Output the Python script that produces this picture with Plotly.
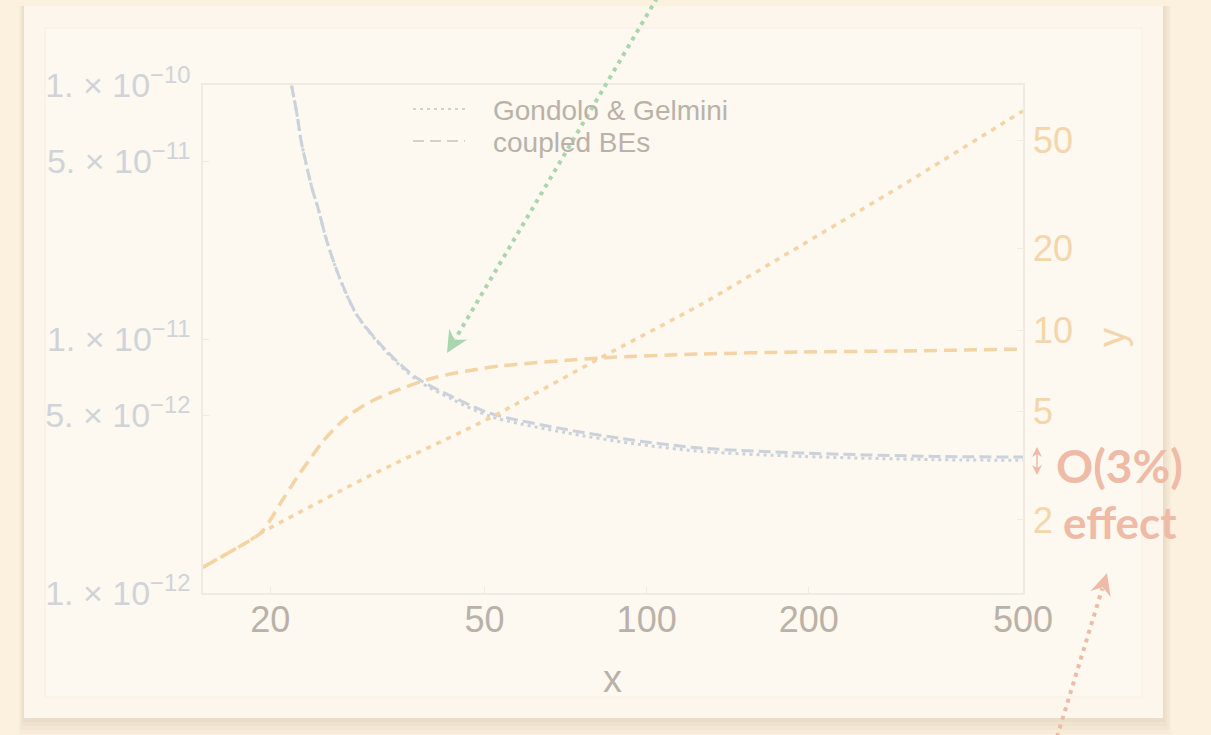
import math
import plotly.graph_objects as go

# ---- data -------------------------------------------------------------
# relic-abundance curves (left axis) vs x
x_blue = [21.4, 21.9, 22.4, 22.8, 23.3, 23.9, 24.5, 25.5, 27.0, 29.0, 33.0,
          37.5, 43.7, 51.2, 71.0, 94.0, 126.0, 193.0, 340.0, 500.0]
y_blue_coupled = [1.35e-10, 1.0e-10, 7.76e-11, 6.07e-11, 4.93e-11, 3.93e-11,
                  3.31e-11, 2.41e-11, 1.71e-11, 1.24e-11, 8.9e-12, 7.0e-12,
                  5.9e-12, 5.1e-12, 4.4e-12, 4.0e-12, 3.72e-12, 3.56e-12,
                  3.45e-12, 3.43e-12]
y_blue_gg = [1.35e-10, 1.0e-10, 7.76e-11, 6.07e-11, 4.93e-11, 3.93e-11,
             3.31e-11, 2.41e-11, 1.70e-11, 1.235e-11, 8.8e-12, 6.88e-12,
             5.77e-12, 4.96e-12, 4.27e-12, 3.88e-12, 3.61e-12, 3.45e-12,
             3.35e-12, 3.33e-12]

# y curves (right axis) vs x
x_orange_coupled = [15.0, 18.4, 19.2, 20.0, 20.9, 22.4, 23.7, 25.0, 26.5,
                    28.4, 30.9, 34.9, 40.1, 46.4, 53.5, 82.0, 126.0, 193.0,
                    295.0, 500.0]
y_orange_coupled = [1.34, 1.69, 1.79, 2.00, 2.31, 2.86, 3.35, 3.87, 4.40,
                    4.95, 5.48, 6.07, 6.66, 7.07, 7.37, 7.89, 8.16, 8.30,
                    8.37, 8.51]
x_orange_gg = [15.0, 18.4, 19.2, 30.3, 51.2, 82.0, 126.0, 193.0, 295.0, 500.0]
y_orange_gg = [1.34, 1.69, 1.79, 2.88, 4.75, 7.89, 12.4, 20.4, 33.6, 64.0]

# axis ticks
x_ticks = [20, 50, 100, 200, 500]
x_tick_text = ["20", "50", "100", "200", "500"]
yl_ticks = [1e-12, 5e-12, 1e-11, 5e-11, 1e-10]
yl_tick_text = ["1. × 10<sup>−12</sup>", "5. × 10<sup>−12</sup>",
                "1. × 10<sup>−11</sup>", "5. × 10<sup>−11</sup>",
                "1. × 10<sup>−10</sup>"]
yr_ticks = [2, 5, 10, 20, 50]
yr_tick_text = ["2", "5", "10", "20", "50"]

legend_labels = ["Gondolo & Gelmini", "coupled BEs"]

# ---- geometry ----------------------------------------------------------
W, H = 1211, 735
L, R, T, B = 203, 1023, 85, 593


def px(xp):
    return (xp - L) / (R - L)


def py(yp):
    return (B - yp) / (B - T)


BLUE = "#cbd2db"
ORANGE = "#f4d4a4"
ORANGE_TXT = "#f4d6aa"
GREEN = "#aad6ad"
SALMON = "#efbba6"
GRAY_TXT = "#bab2a8"
LEFT_TXT = "#d0d4d8"

fig = go.Figure()

fig.add_trace(go.Scatter(x=x_blue, y=y_blue_gg, mode="lines", yaxis="y",
                         line=dict(color=BLUE, width=3, dash="3px,4px",
                                   shape="spline", smoothing=0.8),
                         showlegend=False))
fig.add_trace(go.Scatter(x=x_blue, y=y_blue_coupled, mode="lines", yaxis="y",
                         line=dict(color=BLUE, width=3, dash="12px,5px",
                                   shape="spline", smoothing=0.8),
                         showlegend=False))
fig.add_trace(go.Scatter(x=x_orange_gg, y=y_orange_gg, mode="lines", yaxis="y2",
                         line=dict(color=ORANGE, width=3.5, dash="5px,6px",
                                   shape="spline", smoothing=0.5),
                         showlegend=False))
fig.add_trace(go.Scatter(x=x_orange_coupled, y=y_orange_coupled, mode="lines",
                         yaxis="y2",
                         line=dict(color=ORANGE, width=3.5, dash="13px,7px",
                                   shape="spline", smoothing=0.8),
                         showlegend=False))

shapes = []


def rect(x0, y0, x1, y1, fill, line=None, opacity=1.0):
    shapes.append(dict(type="rect", xref="paper", yref="paper",
                       x0=px(x0), x1=px(x1), y0=py(y1), y1=py(y0),
                       fillcolor=fill, opacity=opacity, layer="below",
                       line=dict(width=1 if line else 0, color=line or fill)))


# slide card with a soft drop shadow
for i, op in enumerate([0.18, 0.22, 0.28, 0.35]):
    d = 8 - 2 * i
    rect(24 - d * 0.6, 6, 1163 + d, 718 + d * 2, "#e6d8c1", opacity=op)
rect(24, 6, 1163, 718, "#fdf6ec")
rect(45, 28, 1142, 697, "#fdf8f0", line="#f6efe4")


def seg(x0, y0, x1, y1, color, width, dash):
    shapes.append(dict(type="line", xref="paper", yref="paper",
                       x0=px(x0), y0=py(y0), x1=px(x1), y1=py(y1),
                       line=dict(color=color, width=width, dash=dash)))


def arrow_head(tip, direction, color, length=22, half=10.5, notch=15):
    dx, dy = direction
    n = math.hypot(dx, dy)
    dx, dy = dx / n, dy / n
    bx, by = tip[0] - length * dx, tip[1] - length * dy
    qx, qy = -dy, dx
    c1 = (bx + half * qx, by + half * qy)
    c2 = (bx - half * qx, by - half * qy)
    nt = (tip[0] - notch * dx, tip[1] - notch * dy)
    pts = [tip, c1, nt, c2]
    path = "M " + " L ".join(f"{px(a):.5f},{py(b):.5f}" for a, b in pts) + " Z"
    shapes.append(dict(type="path", xref="paper", yref="paper", path=path,
                       fillcolor=color, line=dict(width=0)))


# legend samples
seg(413, 109, 467, 109, "#d6d0c7", 2, "3px,4px")
seg(413, 141, 465, 141, "#d6d0c7", 2, "11px,6px")

# green pointer into the crossing region
g_start, g_tip = (657, -2), (447, 353)
gdir = (g_tip[0] - g_start[0], g_tip[1] - g_start[1])
gn = math.hypot(*gdir)
seg(g_start[0], g_start[1], g_tip[0] - 16 * gdir[0] / gn,
    g_tip[1] - 16 * gdir[1] / gn, GREEN, 4, "4px,5px")
arrow_head(g_tip, gdir, GREEN)

# salmon pointer up to the annotation
s_start, s_tip = (1057, 737), (1107, 573)
sdir = (s_tip[0] - s_start[0], s_tip[1] - s_start[1])
sn = math.hypot(*sdir)
seg(s_start[0], s_start[1], s_tip[0] - 16 * sdir[0] / sn,
    s_tip[1] - 16 * sdir[1] / sn, SALMON, 4, "4px,5px")
arrow_head(s_tip, sdir, SALMON)

# small double-headed marker next to the curves' end
arrow_head((1037, 447), (0, -1), SALMON, length=10, half=5, notch=7)
arrow_head((1037, 475), (0, 1), SALMON, length=10, half=5, notch=7)
seg(1037, 452, 1037, 470, SALMON, 1.5, "solid")

annotations = []


def text(x, y, s, size, color, family="Liberation Sans, Arial, sans-serif",
         xanchor="center", yanchor="middle", angle=0):
    annotations.append(dict(x=px(x), y=py(y), xref="paper", yref="paper",
                            text=s, showarrow=False, xanchor=xanchor,
                            yanchor=yanchor, textangle=angle,
                            font=dict(family=family, size=size, color=color)))


text(491, 110, legend_labels[0], 28, GRAY_TXT, xanchor="left")
text(491, 142, legend_labels[1], 28, GRAY_TXT, xanchor="left")
text(612, 679, "x", 38, GRAY_TXT)
text(1112, 338, "y", 38, ORANGE_TXT, angle=-90)
text(1119, 465, "<b>O(3%)</b>", 46, SALMON, family="Lato, sans-serif")
text(1120, 522, "<b>effect</b>", 44, SALMON, family="Lato, sans-serif")

frame = "#f1eae0"
fig.update_layout(
    width=W, height=H,
    margin=dict(l=L, r=W - R, t=T, b=H - B, pad=0),
    paper_bgcolor="#fcf0df",
    plot_bgcolor="rgba(0,0,0,0)",
    shapes=shapes,
    annotations=annotations,
    showlegend=False,
    xaxis=dict(type="log", range=[math.log10(15), math.log10(500)],
               tickvals=x_ticks, ticktext=x_tick_text,
               tickfont=dict(family="Liberation Sans, Arial", size=36,
                             color=GRAY_TXT),
               showgrid=False, zeroline=False, showline=True, mirror=True,
               linecolor=frame, linewidth=1.5, ticks="inside", ticklen=6,
               tickcolor=frame, ticklabelstandoff=-6),
    yaxis=dict(type="log", range=[-12, -10],
               tickvals=yl_ticks, ticktext=yl_tick_text,
               tickfont=dict(family="Liberation Sans, Arial", size=34,
                             color=LEFT_TXT),
               showgrid=False, zeroline=False, showline=True,
               linecolor=frame, linewidth=1.5, ticks="inside", ticklen=6,
               tickcolor=frame, ticklabelstandoff=4),
    yaxis2=dict(type="log", range=[0.0324, 1.9014], overlaying="y",
                side="right", tickvals=yr_ticks, ticktext=yr_tick_text,
                tickfont=dict(family="Liberation Sans, Arial", size=36,
                              color=ORANGE_TXT),
                showgrid=False, zeroline=False, showline=True,
                linecolor=frame, linewidth=1.5, ticks="inside", ticklen=6,
                tickcolor=frame, ticklabelstandoff=1),
)

fig.write_html("out.html")
